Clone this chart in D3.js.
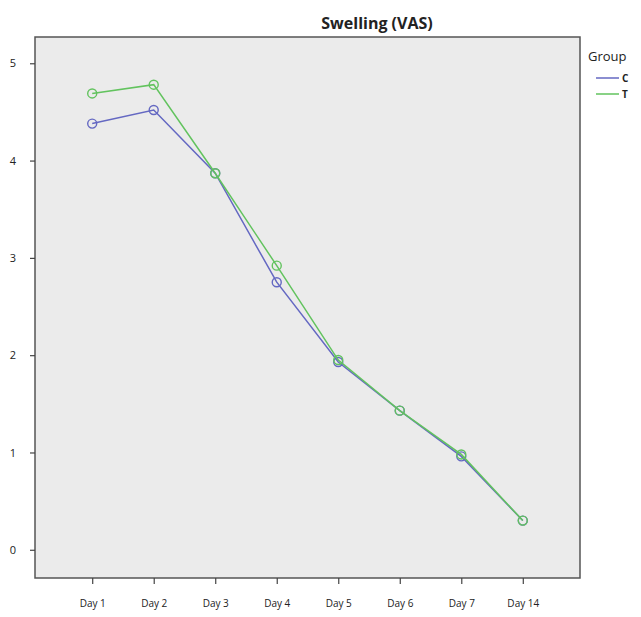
<!DOCTYPE html>
<html lang="en">
<head>
    <meta charset="UTF-8">
    <title>Swelling (VAS)</title>
    <script src="https://d3js.org/d3.v7.min.js"></script>
    <style>
        body { margin: 0; background: #fff; }
        text { font-family: "Open Sans", "DejaVu Sans", sans-serif; fill: #222; }
    </style>
</head>
<body>
    <div id="chart"></div>
    <script>
        // Data
        const days = ['Day 1', 'Day 2', 'Day 3', 'Day 4', 'Day 5', 'Day 6', 'Day 7', 'Day 14'];
        const groupC = [4.38, 4.52, 3.87, 2.75, 1.93, 1.43, 0.96, 0.30];
        const groupT = [4.69, 4.78, 3.87, 2.92, 1.95, 1.43, 0.98, 0.30];
        const yTicks = [0, 1, 2, 3, 4, 5];

        const series = [
            { name: 'C', values: groupC, color: '#6468c2' },
            { name: 'T', values: groupT, color: '#62c35e' }
        ];

        const width = 641, height = 617;
        const plot = { left: 35, top: 37, right: 580, bottom: 578 };

        const svg = d3.select('#chart').append('svg')
            .attr('width', width)
            .attr('height', height);

        const x = d3.scalePoint()
            .domain(days)
            .range([plot.left, plot.right])
            .padding(0.93);

        const y = d3.scaleLinear()
            .domain([-0.29, 5.27])
            .range([plot.bottom, plot.top]);

        // plot background
        svg.append('rect')
            .attr('x', plot.left)
            .attr('y', plot.top)
            .attr('width', plot.right - plot.left)
            .attr('height', plot.bottom - plot.top)
            .attr('fill', '#ebebeb')
            .attr('stroke', '#555')
            .attr('stroke-width', 1.5);

        // axes
        const yAxis = svg.append('g')
            .attr('transform', `translate(${plot.left},0)`)
            .call(d3.axisLeft(y).tickValues(yTicks).tickFormat(d3.format('d')).tickSize(5).tickPadding(14));
        yAxis.select('.domain').remove();
        yAxis.selectAll('line').attr('stroke', '#444').attr('stroke-width', 1.2);
        yAxis.selectAll('text').attr('font-size', 11).attr('fill', '#222');

        const xAxis = svg.append('g')
            .attr('transform', `translate(0,${plot.bottom})`)
            .call(d3.axisBottom(x).tickSize(6).tickPadding(16));
        xAxis.select('.domain').remove();
        xAxis.selectAll('line').attr('stroke', '#444').attr('stroke-width', 1.2);
        xAxis.selectAll('text').attr('font-size', 10).attr('fill', '#222');

        // lines and markers
        const line = d3.line()
            .x((d, i) => x(days[i]))
            .y(d => y(d));

        series.forEach(s => {
            svg.append('path')
                .datum(s.values)
                .attr('fill', 'none')
                .attr('stroke', s.color)
                .attr('stroke-width', 1.5)
                .attr('d', line);

            svg.append('g').selectAll('circle')
                .data(s.values)
                .enter().append('circle')
                .attr('cx', (d, i) => x(days[i]))
                .attr('cy', d => y(d))
                .attr('r', 4.5)
                .attr('fill', 'none')
                .attr('stroke', s.color)
                .attr('stroke-width', 1.4);
        });

        // title
        svg.append('text')
            .attr('x', 377)
            .attr('y', 29)
            .attr('text-anchor', 'middle')
            .attr('font-size', 16)
            .attr('font-weight', 'bold')
            .text('Swelling (VAS)');

        // legend
        const legend = svg.append('g').attr('transform', 'translate(588,0)');
        legend.append('text')
            .attr('x', 0)
            .attr('y', 61)
            .attr('font-size', 13)
            .text('Group');

        series.forEach((s, i) => {
            const ly = 78 + i * 16;
            legend.append('line')
                .attr('x1', 8).attr('x2', 31)
                .attr('y1', ly).attr('y2', ly)
                .attr('stroke', s.color)
                .attr('stroke-width', 1.5);
            legend.append('text')
                .attr('x', 34)
                .attr('y', ly + 4)
                .attr('font-size', 10)
                .attr('font-weight', 'bold')
                .text(s.name);
        });
    </script>
</body>
</html>
